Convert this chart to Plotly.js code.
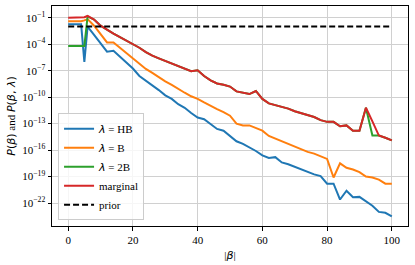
<!DOCTYPE html>
<html>
<head>
<meta charset="utf-8">
<script src="https://cdn.plot.ly/plotly-3.0.1.min.js"></script>
<style>html,body{margin:0;padding:0;background:#fff;}#chart{width:415px;height:265px;}</style>
</head>
<body>
<div id="chart"></div>
<script>
// |beta| values
const beta = [0,2,4,5,6,8,10,12,14,16,18,20,22,24,26,28,30,32,34,36,38,40,42,44,46,48,50,52,54,56,58,60,62,64,66,68,70,72,74,76,78,80,82,84,86,88,90,92,94,96,98,100];
// log10 of probabilities
const logHB = [-1.75,-1.75,-1.75,-6.0,-2.0,-2.95,-3.9,-4.85,-4.75,-5.4,-6.1,-6.75,-7.6,-8.1,-8.6,-9.2,-9.8,-10.2,-10.8,-11.2,-11.8,-12.3,-12.5,-13.1,-13.6,-13.8,-14.4,-15.0,-15.3,-15.7,-16.1,-16.6,-16.9,-16.8,-17.4,-17.6,-17.9,-18.2,-18.5,-18.75,-18.95,-19.8,-19.8,-21.6,-20.6,-21.35,-21.3,-21.8,-22.3,-23.0,-23.1,-23.5];
const logB = [-1.4,-1.4,-1.4,-1.3,-1.15,-1.9,-2.9,-3.8,-3.8,-4.4,-5.0,-5.6,-6.2,-6.8,-7.25,-7.75,-8.2,-8.6,-9.1,-9.5,-9.9,-10.2,-10.6,-11.0,-11.35,-11.7,-12.1,-13.0,-13.2,-13.2,-13.5,-13.8,-14.4,-14.7,-15.0,-15.3,-15.6,-15.9,-16.2,-16.4,-16.7,-17.0,-19.1,-17.5,-18.0,-18.2,-18.5,-19.0,-19.1,-19.35,-19.8,-19.8];
const log2B = [-4.2,-4.2,-4.2,-4.2,-0.85,-1.2,-1.9,-2.4,-2.8,-3.2,-3.6,-4.0,-4.4,-4.9,-5.3,-5.6,-5.9,-6.2,-6.5,-6.8,-7.05,-6.95,-7.6,-8.1,-8.45,-8.6,-8.8,-9.35,-9.5,-9.65,-9.3,-10.2,-10.7,-10.9,-11.1,-11.3,-11.6,-11.8,-12.0,-12.25,-12.6,-12.8,-12.8,-13.3,-13.2,-13.8,-13.8,-11.2,-14.35,-14.35,-14.6,-14.9];
const logMarg = [-1.0,-1.0,-1.0,-0.95,-0.8,-1.2,-1.9,-2.4,-2.8,-3.2,-3.6,-4.0,-4.4,-4.9,-5.3,-5.6,-5.9,-6.2,-6.5,-6.8,-7.05,-6.95,-7.6,-8.1,-8.45,-8.6,-8.8,-9.35,-9.5,-9.65,-9.3,-10.2,-10.7,-10.9,-11.1,-11.3,-11.6,-11.8,-12.0,-12.25,-12.6,-12.8,-12.8,-13.3,-13.2,-13.8,-13.8,-11.2,-12.75,-14.35,-14.6,-14.9];
const priorX = [0,100];
const priorVal = [1/101, 1/101];
const yTickExp = [-22,-19,-16,-13,-10,-7,-4,-1];
const xTicks = [0,20,40,60,80,100];

const p = a => a.map(v => Math.pow(10, v));
const SERIF = 'Liberation Serif, Times New Roman, serif';
const M = s => '<span style="font-family:DejaVu Sans">' + s + '</span>';

const traces = [
  {x: beta, y: p(logHB), name: M('<i>λ</i>') + ' = HB', line: {color: '#1f77b4', width: 2}},
  {x: beta, y: p(logB), name: M('<i>λ</i>') + ' = B', line: {color: '#ff7f0e', width: 2}},
  {x: beta, y: p(log2B), name: M('<i>λ</i>') + ' = 2B', line: {color: '#2ca02c', width: 2}},
  {x: beta, y: p(logMarg), name: 'marginal', line: {color: '#d62728', width: 2}},
  {x: priorX, y: priorVal, name: 'prior', line: {color: '#000000', width: 2, dash: '6px,3px'}}
].map(t => Object.assign({type: 'scatter', mode: 'lines'}, t));

const layout = {
  width: 415, height: 265,
  margin: {l: 52, r: 7, t: 6, b: 39},
  paper_bgcolor: '#fff', plot_bgcolor: '#fff',
  font: {family: SERIF, size: 11, color: '#000'},
  showlegend: true,
  legend: {x: 0.017, y: 0.026, xanchor: 'left', yanchor: 'bottom',
           bgcolor: 'rgba(255,255,255,0.8)', bordercolor: '#cccccc', borderwidth: 1,
           font: {family: SERIF, size: 11}, tracegroupgap: 0},
  xaxis: {range: [-5, 105], tickvals: xTicks, ticks: 'outside', ticklen: 3.5, tickcolor: '#000',
          showline: true, mirror: true, linecolor: '#000', linewidth: 1,
          showgrid: true, gridcolor: '#d0d0d0', gridwidth: 1, zeroline: false,
          tickfont: {family: SERIF, size: 11},
          title: {text: '|' + M('<i>β</i>') + '|', font: {family: SERIF, size: 11}, standoff: 6}},
  yaxis: {type: 'log', range: [-24.6, 0.33],
          tickvals: yTickExp.map(e => Math.pow(10, e)),
          ticktext: yTickExp.map(e => '10<sup>−' + Math.abs(e) + '</sup>'),
          ticks: 'outside', ticklen: 3.5, tickcolor: '#000',
          showline: true, mirror: true, linecolor: '#000', linewidth: 1,
          showgrid: true, gridcolor: '#d0d0d0', gridwidth: 1, zeroline: false,
          tickfont: {family: SERIF, size: 11},
          title: {text: M('<i>P</i>(<i>β</i>)') + ' and ' + M('<i>P</i>(<i>β</i>, <i>λ</i>)'), font: {family: SERIF, size: 11}, standoff: 4}}
};

Plotly.newPlot('chart', traces, layout, {staticPlot: true, displayModeBar: false});
</script>
</body>
</html>
